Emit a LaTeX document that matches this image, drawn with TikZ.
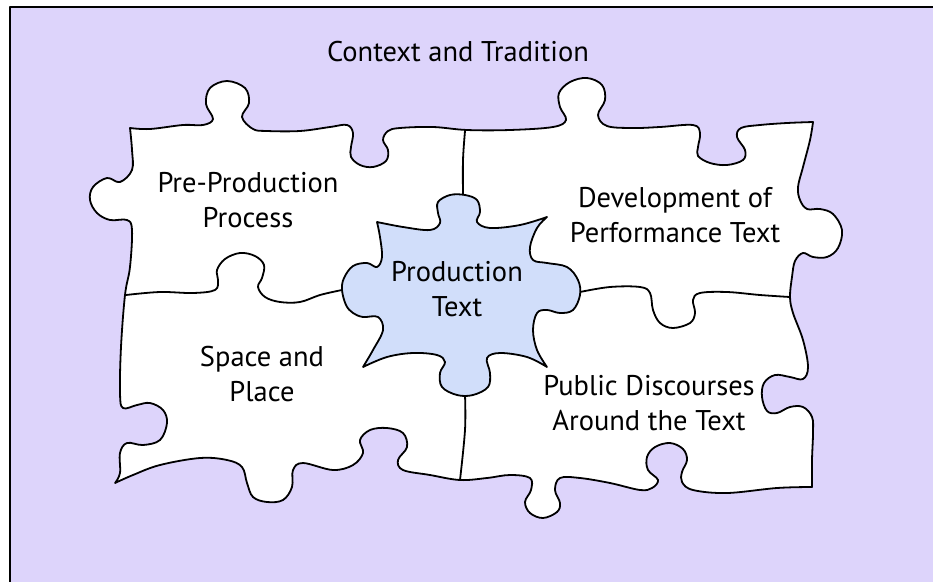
\documentclass[tikz,border=0pt]{standalone}
\usepackage{fontspec}
\setmainfont{PT Sans}
\definecolor{lavender}{RGB}{221,212,251}
\definecolor{paleblue}{RGB}{209,222,250}
\begin{document}
\begin{tikzpicture}[x=1pt,y=-1pt,line join=round,
  piece/.style={draw,line width=1.8pt,fill=white},
  seam/.style={draw,line width=1.8pt},
  main node/.style={align=center,font=\fontsize{28.5}{35}\selectfont}]
\useasboundingbox (0,0) rectangle (933,581);
\draw[line width=2.5pt,fill=lavender] (10,7) rectangle (960,610);

\draw[piece] plot[smooth,tension=0.6] coordinates {(130,128) (150,129) (183,125) (203,125) (213,119) (206,104) (210,88) (227,81) (245,88) (249,103) (242,117) (253,129) (267,131) (300,131) (330,127) (347,125) (353,133) (351,147) (351,157) (360,165) (373,167) (386,161) (388,150) (383,140) (388,131) (400,128) (433,127) (467,130) (510,130) (553,127) (566,120) (560,107) (559,93) (570,82) (587,78) (602,85) (605,100) (598,115) (607,126) (633,128) (660,127) (693,125) (700,133) (698,147) (698,156) (710,163) (727,165) (743,160) (745,150) (737,137) (741,128) (760,125) (787,123) (813,122)}
  -- plot[smooth,tension=0.6] coordinates {(813,122) (810,140) (803,167) (798,187) (800,200) (807,209) (820,209) (833,214) (842,230) (838,248) (827,257) (813,257) (803,253) (795,261) (792,277) (790,297) (793,313) (803,340) (808,367) (803,379) (790,377) (775,375) (764,383) (762,397) (767,411) (777,413) (790,407) (803,407) (812,417) (813,433) (812,460) (812,487)}
  -- plot[smooth,tension=0.6] coordinates {(812,487) (777,488) (727,493) (693,490) (682,482) (682,472) (687,460) (683,449) (670,443) (655,447) (647,457) (648,470) (658,480) (652,488) (640,490) (610,483) (580,478) (560,478) (555,490) (560,503) (557,512) (543,518) (530,513) (525,502) (531,490) (530,478) (510,475) (487,478) (460,480) (430,475) (403,470) (398,460) (407,447) (403,433) (387,428) (370,430) (360,440) (363,453) (353,465) (333,470) (303,463) (293,470) (292,487) (283,500) (267,502) (253,497) (247,483) (242,467) (227,460) (200,458) (160,465) (133,475) (115,483)}
  -- plot[smooth,tension=0.6] coordinates {(115,483) (120,473) (120,453) (127,443) (143,445) (160,440) (167,423) (163,410) (150,403) (137,405) (123,408) (120,393) (121,347) (125,295) (130,267) (132,230) (127,220) (110,220) (97,213) (90,200) (93,187) (107,178) (120,182) (132,170) (132,150) (130,128)} -- cycle;

\path[seam] plot[smooth,tension=0.6] coordinates {(465,131) (463,160) (463,195)};
\path[seam] plot[smooth,tension=0.6] coordinates {(126,295) (160,292) (193,293) (215,290) (218,280) (217,270) (225,259) (240,253) (255,256) (264,265) (262,278) (258,287) (265,297) (280,302) (300,302) (320,295) (342,290)};
\path[seam] plot[smooth,tension=0.6] coordinates {(580,292) (610,287) (640,287) (650,293) (653,310) (660,323) (673,328) (690,323) (695,313) (693,300) (700,293) (727,292) (760,295) (790,297)};
\path[seam] plot[smooth,tension=0.6] coordinates {(465,395) (465,430) (460,480)};

\draw[piece,fill=paleblue] plot[smooth,tension=0.6] coordinates {(377,222) (403,227) (430,230) (440,223) (438,213) (438,202) (450,195) (465,195) (477,200) (480,212) (477,222) (490,228) (520,225) (547,217)}
  -- plot[smooth,tension=0.6] coordinates {(547,217) (537,228) (530,247) (533,260) (547,263) (567,267) (578,280) (580,295) (573,310) (560,313) (547,310) (537,313) (533,330) (537,350) (547,367)}
  -- plot[smooth,tension=0.6] coordinates {(547,367) (527,357) (500,353) (487,358) (490,373) (488,387) (473,395) (457,395) (442,387) (440,373) (445,362) (437,355) (413,353) (387,357) (363,367)}
  -- plot[smooth,tension=0.6] coordinates {(363,367) (373,350) (383,330) (378,317) (363,317) (353,313) (346,305) (342,290) (344,278) (353,266) (367,263) (377,267) (382,257) (380,237) (377,222)} -- cycle;

\node[main node] (ctx) at (458,52) {Context and Tradition};
\node[main node] (pre) at (248,200) {Pre-Production\\Process};
\node[main node] (dev) at (675,215) {Development of\\Performance Text};
\node[main node] (prod) at (457,289) {Production\\Text};
\node[main node] (space) at (262,374) {Space and\\Place};
\node[main node] (pub) at (649,403) {Public Discourses\\Around the Text};
\end{tikzpicture}
\end{document}
